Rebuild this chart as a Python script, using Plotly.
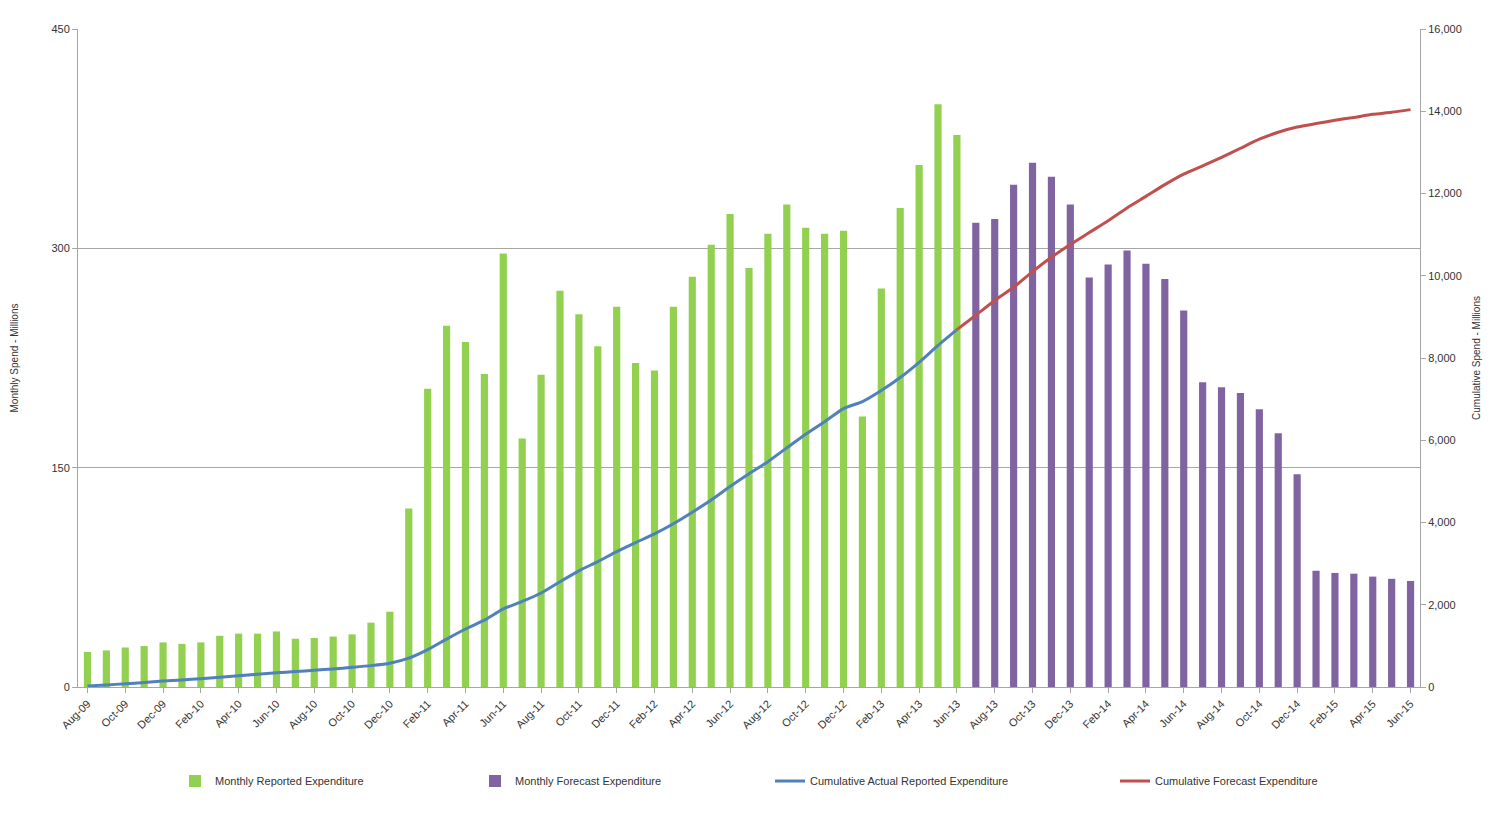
import pandas as pd
import plotly.graph_objects as go

# ---- data ----
months = pd.date_range("2009-08-01", "2015-06-01", freq="MS").strftime("%b-%y").tolist()

monthly_reported = [
    24, 25, 27, 28, 30.5, 29.5, 30.5, 35, 36.5, 36.5, 38, 33, 33.5, 34.5, 36, 44, 51.5,
    122, 204, 247, 236, 214, 296.5, 170, 213.5, 271, 255, 233, 260, 221.5, 216.5, 260,
    280.5, 302.5, 323.5, 286.5, 310, 330, 314, 310, 312, 185, 272.5, 327.5, 357, 398.5, 377.5,
]
monthly_forecast = [
    317.5, 320, 343.5, 358.5, 349, 330, 280, 289, 298.5, 289.5, 279, 257.5,
    208.5, 205, 201, 190, 173.5, 145.5, 79.5, 78, 77.5, 75.5, 74, 72.5,
]
cumulative_actual = [
    24, 50, 78, 110, 145, 172, 200, 236, 272, 310, 345, 376, 408, 440, 478, 520, 578,
    701, 910, 1165, 1410, 1625, 1900, 2080, 2285, 2560, 2825, 3050, 3290, 3510, 3725, 3970,
    4250, 4545, 4875, 5185, 5480, 5815, 6145, 6450, 6770, 6940, 7210, 7525, 7895, 8305, 8690,
]
cumulative_forecast = [
    8690, 9040, 9400, 9720, 10100, 10450, 10760, 11050, 11340, 11650, 11930, 12215, 12470,
    12670, 12880, 13100, 13320, 13490, 13615, 13700, 13780, 13850, 13925, 13975, 14040,
]
left_ticks = [0, 150, 300, 450]
right_ticks = [0, 2000, 4000, 6000, 8000, 10000, 12000, 14000, 16000]

n_rep = len(monthly_reported)
x_rep = months[:n_rep]
x_fc = months[n_rep:]
x_cum_fc = months[n_rep - 1:]

FONT = "Liberation Sans"
GRAY = "#a6a6a6"

fig = go.Figure()
fig.add_trace(go.Bar(x=x_rep, y=monthly_reported, name="Monthly Reported Expenditure",
                     marker=dict(color="#92D050", line=dict(width=0)), width=0.38,
                     legend="legend", showlegend=True))
fig.add_trace(go.Bar(x=x_fc, y=monthly_forecast, name="Monthly Forecast Expenditure",
                     marker=dict(color="#8064A2", line=dict(width=0)), width=0.38,
                     legend="legend2", showlegend=True))
fig.add_trace(go.Scatter(x=x_rep, y=cumulative_actual, name="Cumulative Actual Reported Expenditure",
                         mode="lines", line=dict(color="#4F81BD", width=3, shape="spline", smoothing=0.6),
                         yaxis="y2", legend="legend3", showlegend=True))
fig.add_trace(go.Scatter(x=x_cum_fc, y=cumulative_forecast, name="Cumulative Forecast Expenditure",
                         mode="lines", line=dict(color="#C0504D", width=3, shape="spline", smoothing=0.6),
                         yaxis="y2", legend="legend4", showlegend=True))

L, R, T, B = 78, 76, 29, 148
W, H = 1496, 835
pw = W - L - R

def lx(px):
    return (px - L) / pw

legend_common = dict(orientation="h", yanchor="middle", y=-0.143, xanchor="left",
                     font=dict(family=FONT, size=11, color="#333333"),
                     bgcolor="rgba(0,0,0,0)", itemwidth=30)

fig.update_layout(
    width=W, height=H,
    showlegend=True,
    margin=dict(l=L, r=R, t=T, b=B),
    paper_bgcolor="white", plot_bgcolor="white",
    barmode="overlay",
    font=dict(family=FONT, size=11, color="#333333"),
    xaxis=dict(type="category", categoryorder="array", categoryarray=months,
               range=[-0.5, len(months) - 0.5],
               tickmode="array", tickvals=months[::2], ticktext=months[::2],
               tickangle=-45, showline=True, linecolor=GRAY, linewidth=1,
               ticks="outside", ticklen=5, tickcolor=GRAY, showgrid=False,
               tickfont=dict(family=FONT, size=11, color="#333333")),
    yaxis=dict(range=[0, 450], tickmode="array", tickvals=left_ticks,
               showline=True, linecolor=GRAY, linewidth=1,
               ticks="outside", ticklen=5, tickcolor=GRAY,
               showgrid=True, gridcolor=GRAY, gridwidth=1, zeroline=False,
               title=dict(text="Monthly Spend - Millions", font=dict(family=FONT, size=10, color="#333333"),
                          standoff=30),
               tickfont=dict(family=FONT, size=11, color="#333333")),
    yaxis2=dict(range=[0, 16000], tickmode="array", tickvals=right_ticks, tickformat=",",
                overlaying="y", side="right", showline=True, linecolor=GRAY, linewidth=1,
                ticks="outside", ticklen=5, tickcolor=GRAY, showgrid=False, zeroline=False,
                title=dict(text="Cumulative Spend - Millions", font=dict(family=FONT, size=10, color="#333333"),
                           standoff=12),
                tickfont=dict(family=FONT, size=11, color="#333333")),
    legend=dict(x=lx(175), **legend_common),
    legend2=dict(x=lx(475), **legend_common),
    legend3=dict(x=lx(770), **legend_common),
    legend4=dict(x=lx(1115), **legend_common),
)

fig.write_html("out.html")
